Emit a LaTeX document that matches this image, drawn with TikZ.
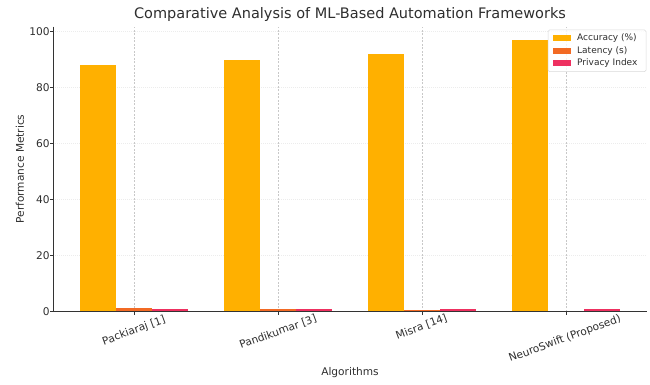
\documentclass[tikz,border=0pt]{standalone}
\usepackage{fontspec}
\setmainfont{DejaVu Sans}
\usepackage{xcolor}
\usepackage{tikz}
\usetikzlibrary{positioning}
\definecolor{accbar}{HTML}{FFB000}
\definecolor{latbar}{HTML}{F26A24}
\definecolor{privbar}{HTML}{EE3060}
\definecolor{spine}{HTML}{333333}
\definecolor{ink}{HTML}{2E2E2E}
\definecolor{gridgray}{HTML}{C8C8C8}
\tikzset{
    every picture/.style={line join=miter},
    spineline/.style={draw=spine,line width=0.8pt},
    vgrid/.style={draw=gridgray,line width=0.5pt,dash pattern=on 2pt off 1.5pt},
    hgrid/.style={draw=gridgray!35,line width=0.5pt,dash pattern=on 1pt off 1pt},
    tickmark/.style={draw=spine,line width=0.6pt},
    yticklabel/.style={anchor=east,text=ink,font=\fontsize{10.6}{12}\selectfont,inner sep=0pt},
    xticklabel/.style={rotate=20,text=ink,font=\fontsize{10.6}{12}\selectfont,inner sep=0pt},
    axislabel/.style={text=ink,font=\fontsize{10.6}{12}\selectfont,inner sep=0pt},
    legendtext/.style={anchor=west,text=ink,font=\fontsize{9}{10}\selectfont,inner sep=0pt},
    legendbox/.style={draw=gridgray!70,fill=white,fill opacity=0.8,rounded corners=1.5pt,line width=0.5pt}
}

\begin{document}
\begin{tikzpicture}[x=1pt,y=1pt]
  \useasboundingbox (0,0) rectangle (650,385);

  % data frame: one unit per algorithm, 2.8pt per percent
  \begin{scope}[shift={(134,73.3)},x=144pt,y=2.8pt]
    % grid
    \draw[hgrid] (-0.5625,20) -- (3.5625,20);
    \draw[hgrid] (-0.5625,40) -- (3.5625,40);
    \draw[hgrid] (-0.5625,60) -- (3.5625,60);
    \draw[hgrid] (-0.5625,80) -- (3.5625,80);
    \draw[hgrid] (-0.5625,100) -- (3.5625,100);
    \draw[vgrid] (0,0) -- (0,101.85);
    \draw[vgrid] (1,0) -- (1,101.85);
    \draw[vgrid] (2,0) -- (2,101.85);
    \draw[vgrid] (3,0) -- (3,101.85);

    % accuracy (%)
    \fill[accbar] (-0.375,0) rectangle (-0.125,88);
    \fill[accbar] (0.625,0) rectangle (0.875,90);
    \fill[accbar] (1.625,0) rectangle (1.875,92);
    \fill[accbar] (2.625,0) rectangle (2.875,97);
    % latency (s)
    \fill[latbar] (-0.125,0) rectangle (0.125,1.2);
    \fill[latbar] (0.875,0) rectangle (1.125,0.9);
    \fill[latbar] (1.875,0) rectangle (2.125,0.6);
    \fill[latbar] (2.875,0) rectangle (3.125,0.4);
    % privacy index
    \fill[privbar] (0.125,0) rectangle (0.375,0.9);
    \fill[privbar] (1.125,0) rectangle (1.375,0.9);
    \fill[privbar] (2.125,0) rectangle (2.375,0.88);
    \fill[privbar] (3.125,0) rectangle (3.375,0.95);

    % spines and ticks
    \draw[spineline] (-0.5625,101.85) -- (-0.5625,0) -- (3.5625,0);
    \draw[tickmark] (0,0) -- (0,-1.2);
    \draw[tickmark] (1,0) -- (1,-1.2);
    \draw[tickmark] (2,0) -- (2,-1.2);
    \draw[tickmark] (3,0) -- (3,-1.2);
    \foreach \v in {0,20,40,60,80,100}
      \draw[tickmark] (-0.5625,\v) -- ++(-3.5pt,0);

    \node[yticklabel] (y0) at (-0.5852,0) {0};
    \node[yticklabel] (y20) at (-0.5852,20) {20};
    \node[yticklabel] (y40) at (-0.5852,40) {40};
    \node[yticklabel] (y60) at (-0.5852,60) {60};
    \node[yticklabel] (y80) at (-0.5852,80) {80};
    \node[yticklabel] (y100) at (-0.5852,100) {100};
  \end{scope}

  % algorithm names
  \node[xticklabel] (packiaraj) at (134,54) {Packiaraj [1]};
  \node[xticklabel] (pandikumar) at (278,53) {Pandikumar [3]};
  \node[xticklabel] (misra) at (421.5,58) {Misra [14]};
  \node[xticklabel] (neuroswift) at (565,46) {NeuroSwift (Proposed)};

  % titles
  \node[text=ink,font=\fontsize{14.5}{16}\selectfont,inner sep=0pt] (title) at (350,370) {Comparative Analysis of ML-Based Automation Frameworks};
  \node[axislabel] (xlabel) at (350,12) {Algorithms};
  \node[axislabel,rotate=90] (ylabel) at (20,216) {Performance Metrics};

  % legend
  \draw[legendbox] (548,313.3) rectangle (646,355);
  \fill[accbar] (553,343.7) rectangle (571,349.7);
  \node[legendtext] (accleg) at (577,346.7) {Accuracy (\%)};
  \fill[latbar] (553,331.3) rectangle (571,337.3);
  \node[legendtext] (latleg) at (577,334.3) {Latency (s)};
  \fill[privbar] (553,318.5) rectangle (571,324.5);
  \node[legendtext] (privleg) at (577,321.5) {Privacy Index};
\end{tikzpicture}
\end{document}
